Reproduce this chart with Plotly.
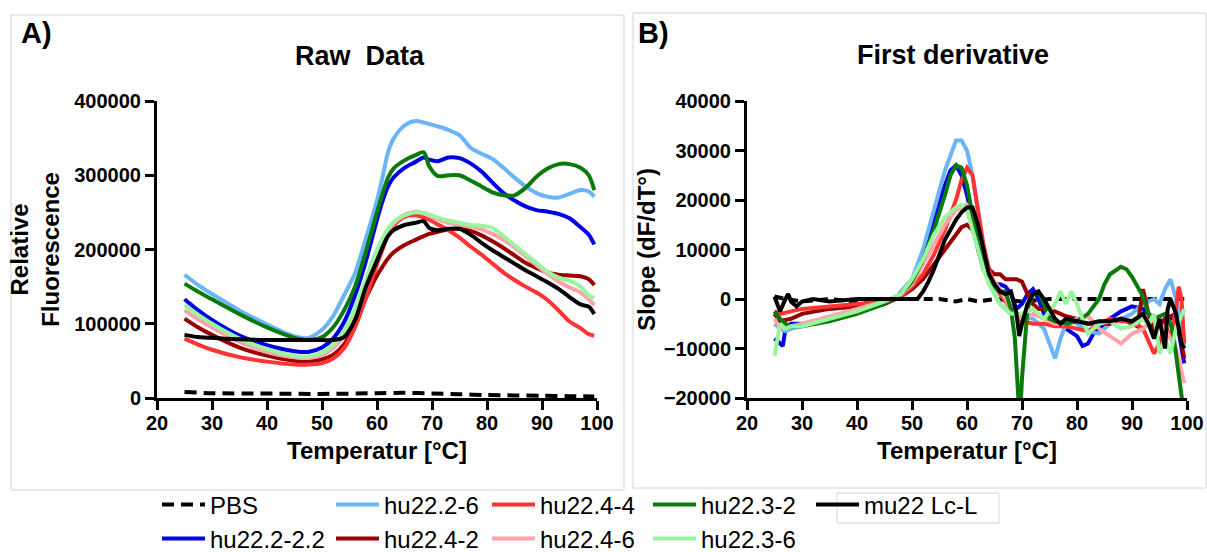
import plotly.graph_objects as go

W, H = 1207, 552
FONT = "Liberation Sans, Arial, sans-serif"


def px(x):
    return x / W


def py(y):
    return 1 - y / H


# ---------------- Raw data (relative fluorescence, in thousands) ----------------
T_RAW = [25, 27.5, 30, 35, 40, 45, 47.5, 50, 52, 54, 56, 58, 60, 61, 62, 63, 65, 67,
         68.5, 69.5, 71, 73, 75, 77, 79, 81, 83, 85, 87, 89, 91, 93, 95, 97, 98.5, 99.5]

raw_hu22_2_6 = [166, 152, 140, 118, 99, 83, 81, 92, 110, 138, 168, 215, 266, 297, 331, 349, 367, 373,
                371, 369, 366, 361, 354, 337, 329, 322, 310, 297, 285, 276, 271, 270, 275, 280, 278, 271]
raw_hu22_3_2 = [154, 143, 133, 113, 95, 81, 78, 82, 95, 118, 150, 198, 250, 275, 297, 309, 320, 327,
                331, 312, 299, 300, 300, 293, 285, 277, 273, 273, 283, 298, 309, 315, 315, 310, 300, 280]
raw_hu22_2_2_2 = [133, 118, 105, 84, 71, 63, 62, 68, 80, 102, 138, 185, 240, 265, 285, 297, 310, 318,
                  324, 321, 319, 324, 323, 316, 305, 290, 276, 266, 258, 253, 251, 248, 242, 230, 220, 207]
raw_hu22_3_6 = [125, 112, 100, 80, 66, 57, 56, 61, 71, 90, 120, 160, 200, 215, 228, 237, 246, 250,
                249, 247, 243, 239, 236, 233, 232, 229, 218, 206, 194, 182, 170, 162, 158, 150, 138, 135]
raw_hu22_4_6 = [118, 106, 95, 76, 62, 55, 54, 58, 67, 84, 112, 150, 192, 210, 225, 235, 247, 251,
                249, 246, 241, 236, 233, 231, 227, 221, 213, 203, 191, 179, 167, 157, 149, 142, 133, 125]
raw_hu22_4_2 = [107, 95, 85, 68, 57, 50, 49, 52, 58, 72, 100, 135, 165, 177, 188, 196, 206, 213,
                218, 221, 224, 227, 228, 225, 219, 211, 202, 192, 182, 175, 169, 166, 165, 164, 160, 152]
raw_hu22_4_4 = [80, 72, 65, 55, 49, 45, 45, 47, 53, 67, 95, 135, 180, 200, 220, 232, 244, 246,
                243, 240, 234, 226, 216, 204, 193, 181, 169, 159, 150, 142, 132, 118, 103, 94, 86, 84]
raw_mu22 = [85, 82, 81, 79, 78, 78, 78, 78, 78, 82, 105, 150, 185, 203, 218, 226, 233, 236,
            238, 229, 226, 228, 228, 220, 209, 199, 190, 181, 172, 164, 156, 147, 136, 126, 123, 113]

T_PBS = [25, 30, 40, 50, 60, 65, 70, 75, 80, 85, 90, 95, 99.5]
raw_pbs = [8, 6.5, 6, 5.5, 6.5, 7, 6, 5, 4, 3.5, 3, 2.5, 2]

# ---------------- First derivative (dF/dT) ----------------
d_pbs_T = [25, 27, 30, 35, 40, 45, 50, 55, 58, 60, 62, 65, 70, 75, 80, 85, 90, 95, 99.5]
d_pbs = [500, 0, -500, 0, -500, 0, 0, 0, -500, 0, -500, 0, -500, 0, 0, 0, 0, 0, 0]

d_hu22_2_6_T = [25, 26, 27, 28, 30, 35, 40, 45, 47, 48, 50, 52, 54, 56, 57, 58, 59, 60, 61, 62, 63,
                64, 65, 66, 67, 68, 70, 72, 74, 75, 76, 77, 78, 79, 80, 82, 84, 86, 88, 90, 92, 94,
                95, 96, 97, 98, 99, 99.5]
d_hu22_2_6 = [-5000, -6000, -6500, -6000, -5500, -4000, -2500, -1000, 0, 1500, 4000, 10000, 18000,
              26000, 29000, 32000, 32000, 30000, 25000, 17000, 10000, 5000, 1000, -1000, -2000,
              -3000, -3500, -4000, -6000, -9000, -12000, -8000, -5000, -4000, -5000, -6500, -7000,
              -5000, -4000, -3000, -1000, 0, -1000, 2000, 4000, 0, -5000, -10000]

d_hu22_2_2_2_T = [25, 26, 26.5, 27, 28, 30, 35, 40, 45, 48, 50, 52, 54, 56, 57, 58, 59, 60, 61, 62,
                  63, 64, 65, 66, 67, 68, 69, 70, 71, 72, 73, 74, 76, 78, 80, 81, 82, 83, 84, 86,
                  88, 90, 92, 94, 96, 98, 99, 99.5]
d_hu22_2_2_2 = [-8000, -9000, -9500, -6000, -5000, -5000, -4000, -2500, -1000, 1000, 3500, 8000,
                16000, 23000, 26000, 27000, 25000, 21000, 16000, 10000, 6000, 4000, 3000, 3000,
                2500, 1000, -2000, -1000, 1000, 2000, 0, -3000, -4500, -6000, -7500, -9500, -9000,
                -7000, -6000, -4000, -2500, -1500, -2000, -4000, -5000, -3000, -10000, -13000]

d_hu22_4_2_T = [25, 26, 28, 30, 35, 40, 45, 48, 50, 52, 54, 56, 58, 59, 60, 61, 62, 63, 64, 65, 66,
                67, 68, 69, 70, 71, 72, 73, 74, 76, 78, 80, 82, 84, 86, 88, 90, 91, 92, 93, 94, 96,
                98, 99, 99.5]
d_hu22_4_2 = [-3000, -4500, -4000, -3000, -2000, -1500, -1000, 500, 2000, 4000, 7000, 10000, 13000,
              14500, 15000, 14000, 11000, 8000, 6000, 5000, 5000, 4000, 4000, 4000, 3500, 1000,
              -1000, -2000, -2000, -2500, -3500, -4000, -5000, -5000, -5000, -4000, -5000, -5500,
              2000, -3000, -6000, -4000, -3000, -9000, -12000]

d_hu22_4_4_T = [25, 26, 28, 30, 35, 40, 45, 48, 50, 52, 54, 56, 58, 59, 60, 61, 62, 63, 64, 65, 66,
                68, 70, 72, 74, 76, 78, 80, 82, 84, 86, 88, 90, 92, 94, 95, 96, 97, 98, 98.5, 99,
                99.5]
d_hu22_4_4 = [-2500, -3000, -2500, -2000, -1500, -1000, -500, 500, 2500, 5000, 9000, 14000, 20000,
              24000, 26500, 25000, 18000, 11000, 6000, 3000, 1000, -2000, -4500, -5000, -5000,
              -5500, -5500, -6000, -6500, -5000, -4000, -4500, -4500, -6000, -11000, -9000, -5000,
              -8000, -2000, 2500, 0, -9000]

d_hu22_4_6_T = [25, 26, 28, 30, 35, 40, 45, 48, 50, 52, 54, 56, 58, 60, 61, 62, 63, 64, 66, 68, 70,
                72, 74, 76, 78, 80, 82, 84, 86, 88, 90, 92, 94, 96, 98, 99.5]
d_hu22_4_6 = [-4000, -6000, -5500, -5000, -3500, -2000, -500, 1000, 3000, 7000, 11000, 15000, 18000,
              19000, 17000, 12000, 8000, 5000, 2000, -2000, -4000, -3000, -4000, -5000, -5000,
              -4000, -3500, -6000, -7500, -9000, -7000, -6000, -4000, -6000, -10000, -17000]

d_hu22_3_2_T = [25, 26, 27, 28, 30, 35, 40, 45, 48, 50, 52, 54, 56, 57, 58, 59, 60, 61, 62, 63, 64,
                65, 66, 67, 68, 68.7, 69.2, 69.6, 70, 70.5, 71, 72, 73, 74, 75, 76, 78, 80, 82, 84,
                85, 86, 88, 89, 90, 91, 92, 93, 94, 96, 97, 97.5, 98.5, 99.3]
d_hu22_3_2 = [-2500, -4000, -5000, -5500, -5500, -4500, -3000, -1000, 1000, 3500, 8000, 14000, 21000,
              25000, 27000, 26500, 23000, 17000, 11000, 7000, 4000, 2500, 1500, 1500, -2000, -8000,
              -20000, -25000, -16000, -10000, -2000, 1000, 1500, -1000, -4000, -4500, -5000, -4500,
              -3000, 0, 3000, 5000, 6500, 6000, 4500, 2500, 500, -3000, -4000, -3000, -5000, -7000,
              -15000, -22000]

d_hu22_3_6_T = [25, 25.5, 26, 27, 28, 30, 35, 40, 45, 48, 50, 52, 54, 56, 58, 59, 60, 61, 62, 63,
                64, 65, 66, 68, 70, 72, 74, 76, 77, 78, 79, 80, 82, 84, 86, 88, 90, 92, 93, 94, 95,
                96, 97, 98, 99, 99.5]
d_hu22_3_6 = [-11500, -8000, -5000, -6000, -5500, -5500, -4000, -2500, -500, 1000, 4000, 8000, 13000,
              16500, 18500, 19000, 18000, 14000, 10000, 6000, 3000, 1000, -1000, -3000, -3000,
              -2000, -4000, -1000, 1500, -1000, 1500, -1000, -7000, -5000, -4500, -6000, -5500,
              -4000, -5000, -3000, -11000, -8000, -11000, -6000, -3000, -2000]

d_mu22_T = [25, 26, 27, 27.5, 28, 29, 30, 32, 35, 40, 45, 50, 51, 52, 53, 54, 55, 56, 57, 58, 59,
            60, 61, 62, 63, 64, 65, 66, 67, 68, 69, 69.5, 70, 71, 72, 73, 74, 75, 76, 77, 78, 80,
            82, 84, 86, 88, 90, 92, 93, 94, 95, 96, 96.5, 97, 98, 99, 99.5]
d_mu22 = [500, -2500, 0, 1000, -500, -1500, -500, 0, -500, 0, 0, 0, 0, 1500, 3500, 6000, 9000,
          12000, 14000, 16000, 17500, 18500, 18500, 15000, 10000, 5000, 3000, 1500, 1000, 1500,
          -3000, -7500, -5000, -1000, 1000, 1500, 0, -2000, -4000, -5000, -4000, -4500, -5000,
          -4500, -4500, -4000, -4500, -3000, -5000, -8000, -4000, -10000, -2000, 0, -3000, -9000,
          -10000]

# series: name, colour, raw x, raw y, deriv x, deriv y, dashed
SERIES = [
    ("PBS", "#000000", T_PBS, raw_pbs, d_pbs_T, d_pbs, True),
    ("hu22.2-2.2", "#0000E6", T_RAW, raw_hu22_2_2_2, d_hu22_2_2_2_T, d_hu22_2_2_2, False),
    ("hu22.2-6", "#6AB4F7", T_RAW, raw_hu22_2_6, d_hu22_2_6_T, d_hu22_2_6, False),
    ("hu22.4-2", "#990000", T_RAW, raw_hu22_4_2, d_hu22_4_2_T, d_hu22_4_2, False),
    ("hu22.4-4", "#FF3333", T_RAW, raw_hu22_4_4, d_hu22_4_4_T, d_hu22_4_4, False),
    ("hu22.4-6", "#FFA3AA", T_RAW, raw_hu22_4_6, d_hu22_4_6_T, d_hu22_4_6, False),
    ("hu22.3-2", "#0A7A0A", T_RAW, raw_hu22_3_2, d_hu22_3_2_T, d_hu22_3_2, False),
    ("hu22.3-6", "#99F59E", T_RAW, raw_hu22_3_6, d_hu22_3_6_T, d_hu22_3_6, False),
    ("mu22 Lc-L", "#000000", T_RAW, raw_mu22, d_mu22_T, d_mu22, False),
]

# legend slot (column, row) for each series
LEG_SLOT = {"PBS": (0, 0), "hu22.2-6": (1, 0), "hu22.4-4": (2, 0), "hu22.3-2": (3, 0),
            "mu22 Lc-L": (4, 0), "hu22.2-2.2": (0, 1), "hu22.4-2": (1, 1),
            "hu22.4-6": (2, 1), "hu22.3-6": (3, 1)}
LEG_COL_PX = [162, 336, 492, 653, 816]
LEG_ROW_PX = [505, 539]

fig = go.Figure()

leg_layout = {}
for i, (name, col, xr, yr, xd, yd, dashed) in enumerate(SERIES):
    key = "legend" if i == 0 else f"legend{i + 1}"
    fig.add_trace(go.Scatter(
        x=xr, y=[v * 1000 for v in yr], mode="lines", name=name,
        line=dict(color=col, width=4, dash="12px,7px" if dashed else "solid",
                  shape="spline", smoothing=0.8),
        xaxis="x", yaxis="y", legend=key, showlegend=True,
    ))
    fig.add_trace(go.Scatter(
        x=xd, y=yd, mode="lines", name=name,
        line=dict(color=col, width=4, dash="9px,6px" if dashed else "solid"),
        xaxis="x2", yaxis="y2", showlegend=False,
    ))
    c, r = LEG_SLOT[name]
    leg_layout[key] = dict(
        x=px(LEG_COL_PX[c] - 5), xanchor="left",
        y=py(LEG_ROW_PX[r]), yanchor="middle",
        bgcolor="rgba(0,0,0,0)", borderwidth=0, itemwidth=43,
        font=dict(family=FONT, size=24, color="#000000"),
    )

tickfont = dict(family=FONT, size=20, color="#000000", weight="bold")
titlefont = dict(family=FONT, size=24, color="#000000", weight="bold")
ax_common = dict(showline=True, linewidth=3, linecolor="#000000", ticks="outside",
                 ticklen=9, tickwidth=3, tickcolor="#000000", showgrid=False,
                 zeroline=False, tickfont=tickfont)

fig.update_layout(
    width=W, height=H,
    margin=dict(l=0, r=0, t=0, b=0, autoexpand=False),
    paper_bgcolor="#FFFFFF", plot_bgcolor="#FFFFFF",
    font=dict(family=FONT),
    xaxis=dict(domain=[px(157), px(597)], range=[20, 100], dtick=10, anchor="y",
               ticklabelstandoff=-4,
               title=dict(text="Temperatur [°C]", font=titlefont, standoff=10), **ax_common),
    yaxis=dict(domain=[py(398), py(101)], range=[0, 400000], dtick=100000, tickformat="d",
               anchor="x",
               title=dict(text="Relative<br>Fluorescence", font=titlefont, standoff=8),
               **ax_common),
    xaxis2=dict(domain=[px(747), px(1187)], range=[20, 100], dtick=10, anchor="y2",
                ticklabelstandoff=-4,
                title=dict(text="Temperatur [°C]", font=titlefont, standoff=10), **ax_common),
    yaxis2=dict(domain=[py(398), py(101)], range=[-20000, 40000], dtick=10000, tickformat="d",
                anchor="x2",
                title=dict(text="Slope (dF/dT°)", font=titlefont, standoff=2), **ax_common),
    **leg_layout,
)

# panel titles and letters
head = dict(family=FONT, size=27, color="#000", weight="bold")
letter = dict(family=FONT, size=29, color="#000", weight="bold")
fig.add_annotation(text="Raw  Data", x=px(360), y=py(56), xref="paper", yref="paper",
                   xanchor="center", yanchor="middle", showarrow=False, font=head)
fig.add_annotation(text="First derivative", x=px(953), y=py(55), xref="paper", yref="paper",
                   xanchor="center", yanchor="middle", showarrow=False, font=head)
fig.add_annotation(text="A)", x=px(19), y=py(33), xref="paper", yref="paper",
                   xanchor="left", yanchor="middle", showarrow=False, font=letter)
fig.add_annotation(text="B)", x=px(636), y=py(33), xref="paper", yref="paper",
                   xanchor="left", yanchor="middle", showarrow=False, font=letter)

# light panel frames
frame = dict(color="#D4D4D4", width=1)
fig.add_shape(type="rect", xref="paper", yref="paper", x0=px(11), x1=px(624),
              y0=py(490), y1=py(15), line=frame)
fig.add_shape(type="rect", xref="paper", yref="paper", x0=px(633), x1=px(1206),
              y0=py(488), y1=py(13), line=frame)
fig.add_shape(type="rect", xref="paper", yref="paper", x0=px(837), x1=px(999),
              y0=py(523), y1=py(493), line=frame)

# drop the default page margin so the figure fills the window exactly
fig.write_html("out.html", config={"displayModeBar": False},
               post_script="document.body.style.margin='0';document.body.style.overflow='hidden';")
